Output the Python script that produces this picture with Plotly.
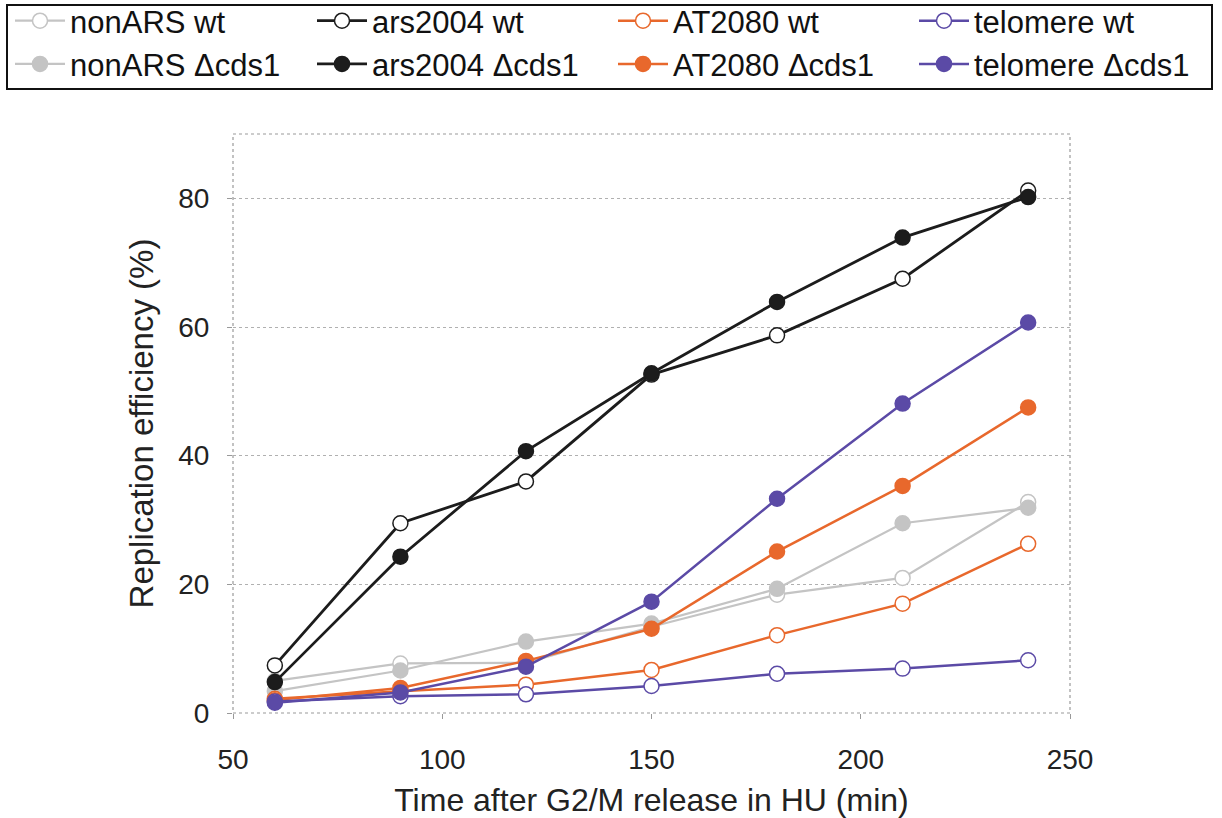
import plotly.graph_objects as go

# Sampling times (min after G2/M release in HU)
time_min = [60, 90, 120, 150, 180, 210, 240]

# Replication efficiency (%) per locus, wild type and Δcds1
nonars_wt = [5.0, 7.7, 7.8, 13.4, 18.4, 21.0, 32.8]
nonars_cds1 = [3.4, 6.6, 11.1, 13.9, 19.3, 29.5, 31.9]
ars2004_wt = [7.4, 29.5, 36.0, 52.6, 58.7, 67.5, 81.2]
ars2004_cds1 = [4.8, 24.3, 40.7, 52.8, 63.9, 73.9, 80.2]
at2080_wt = [2.2, 3.4, 4.4, 6.7, 12.1, 17.0, 26.3]
at2080_cds1 = [2.0, 3.9, 8.1, 13.1, 25.1, 35.3, 47.5]
telomere_wt = [1.8, 2.6, 2.9, 4.2, 6.1, 6.9, 8.2]
telomere_cds1 = [1.6, 3.2, 7.2, 17.3, 33.3, 48.1, 60.7]

y_ticks = [0, 20, 40, 60, 80]
x_ticks = [50, 100, 150, 200, 250]

FONT = "Liberation Sans, Arial, Helvetica, sans-serif"
GRAY = "#c4c4c4"
BLACK = "#1c1c1c"
ORANGE = "#e8682c"
PURPLE = "#5b4aa6"

W, H = 1222, 818
ML, MR, MT, MB = 233, 152, 134, 105
PW, PH = W - ML - MR, H - MT - MB


def px_x(p):
    return (p - ML) / PW


def px_y(p):
    return 1 + (MT - p) / PH


fig = go.Figure()


def add_series(name, y, color, filled, legend, lw):
    fig.add_trace(go.Scatter(
        x=time_min, y=y, name=name, mode="lines+markers",
        legend=legend,
        line=dict(color=color, width=lw),
        marker=dict(symbol="circle", size=15,
                    color=color if filled else "white",
                    line=dict(color=color, width=1.5)),
    ))


# drawing order: grey loci at the back, ars2004 on top
add_series("nonARS wt", nonars_wt, GRAY, False, "legend", 2.2)
add_series("nonARS Δcds1", nonars_cds1, GRAY, True, "legend", 2.2)
add_series("AT2080 wt", at2080_wt, ORANGE, False, "legend3", 2.5)
add_series("AT2080 Δcds1", at2080_cds1, ORANGE, True, "legend3", 2.5)
add_series("telomere wt", telomere_wt, PURPLE, False, "legend4", 2.5)
add_series("telomere Δcds1", telomere_cds1, PURPLE, True, "legend4", 2.5)
add_series("ars2004 wt", ars2004_wt, BLACK, False, "legend2", 2.8)
add_series("ars2004 Δcds1", ars2004_cds1, BLACK, True, "legend2", 2.8)

legend_font = dict(family=FONT, size=31, color="#111")
legend_common = dict(
    orientation="v", yanchor="top", xanchor="left", y=px_y(-6),
    font=legend_font, bgcolor="rgba(0,0,0,0)", borderwidth=0,
    itemwidth=50, tracegroupgap=0, itemclick=False,
)
col_left = [10, 312, 613, 914]

fig.update_layout(
    width=W, height=H,
    margin=dict(l=ML, r=MR, t=MT, b=MB, autoexpand=False),
    paper_bgcolor="white", plot_bgcolor="white",
    font=dict(family=FONT, color="#222"),
    legend=dict(x=px_x(col_left[0]), **legend_common),
    legend2=dict(x=px_x(col_left[1]), **legend_common),
    legend3=dict(x=px_x(col_left[2]), **legend_common),
    legend4=dict(x=px_x(col_left[3]), **legend_common),
    xaxis=dict(
        range=[50, 250], tickvals=x_ticks, showgrid=False, zeroline=False,
        ticks="outside", ticklen=5, tickcolor="#999",
        tickfont=dict(family=FONT, size=28, color="#222"),
        ticklabelstandoff=16,
        title=dict(text="Time after G2/M release in HU (min)",
                   font=dict(family=FONT, size=32, color="#222"),
                   standoff=16),
    ),
    yaxis=dict(
        range=[0, 90], tickvals=y_ticks, showgrid=True, zeroline=False,
        gridcolor="#b0b0b0", griddash="dot", gridwidth=1.2,
        ticks="outside", ticklen=5, tickcolor="#999",
        tickfont=dict(family=FONT, size=28, color="#222"),
        ticklabelstandoff=12,
        title=dict(text="Replication efficiency (%)",
                   font=dict(family=FONT, size=33, color="#222"),
                   standoff=14),
    ),
    shapes=[
        # plot-area frame
        dict(type="rect", xref="paper", yref="paper", x0=0, x1=1, y0=0, y1=1,
             line=dict(color="#9a9a9a", width=1.2, dash="dot"), layer="below"),
        # legend box
        dict(type="rect", xref="paper", yref="paper",
             x0=px_x(7), x1=px_x(1212), y0=px_y(89), y1=px_y(5),
             line=dict(color="#111", width=2)),
    ],
)

fig.write_html("out.html")
